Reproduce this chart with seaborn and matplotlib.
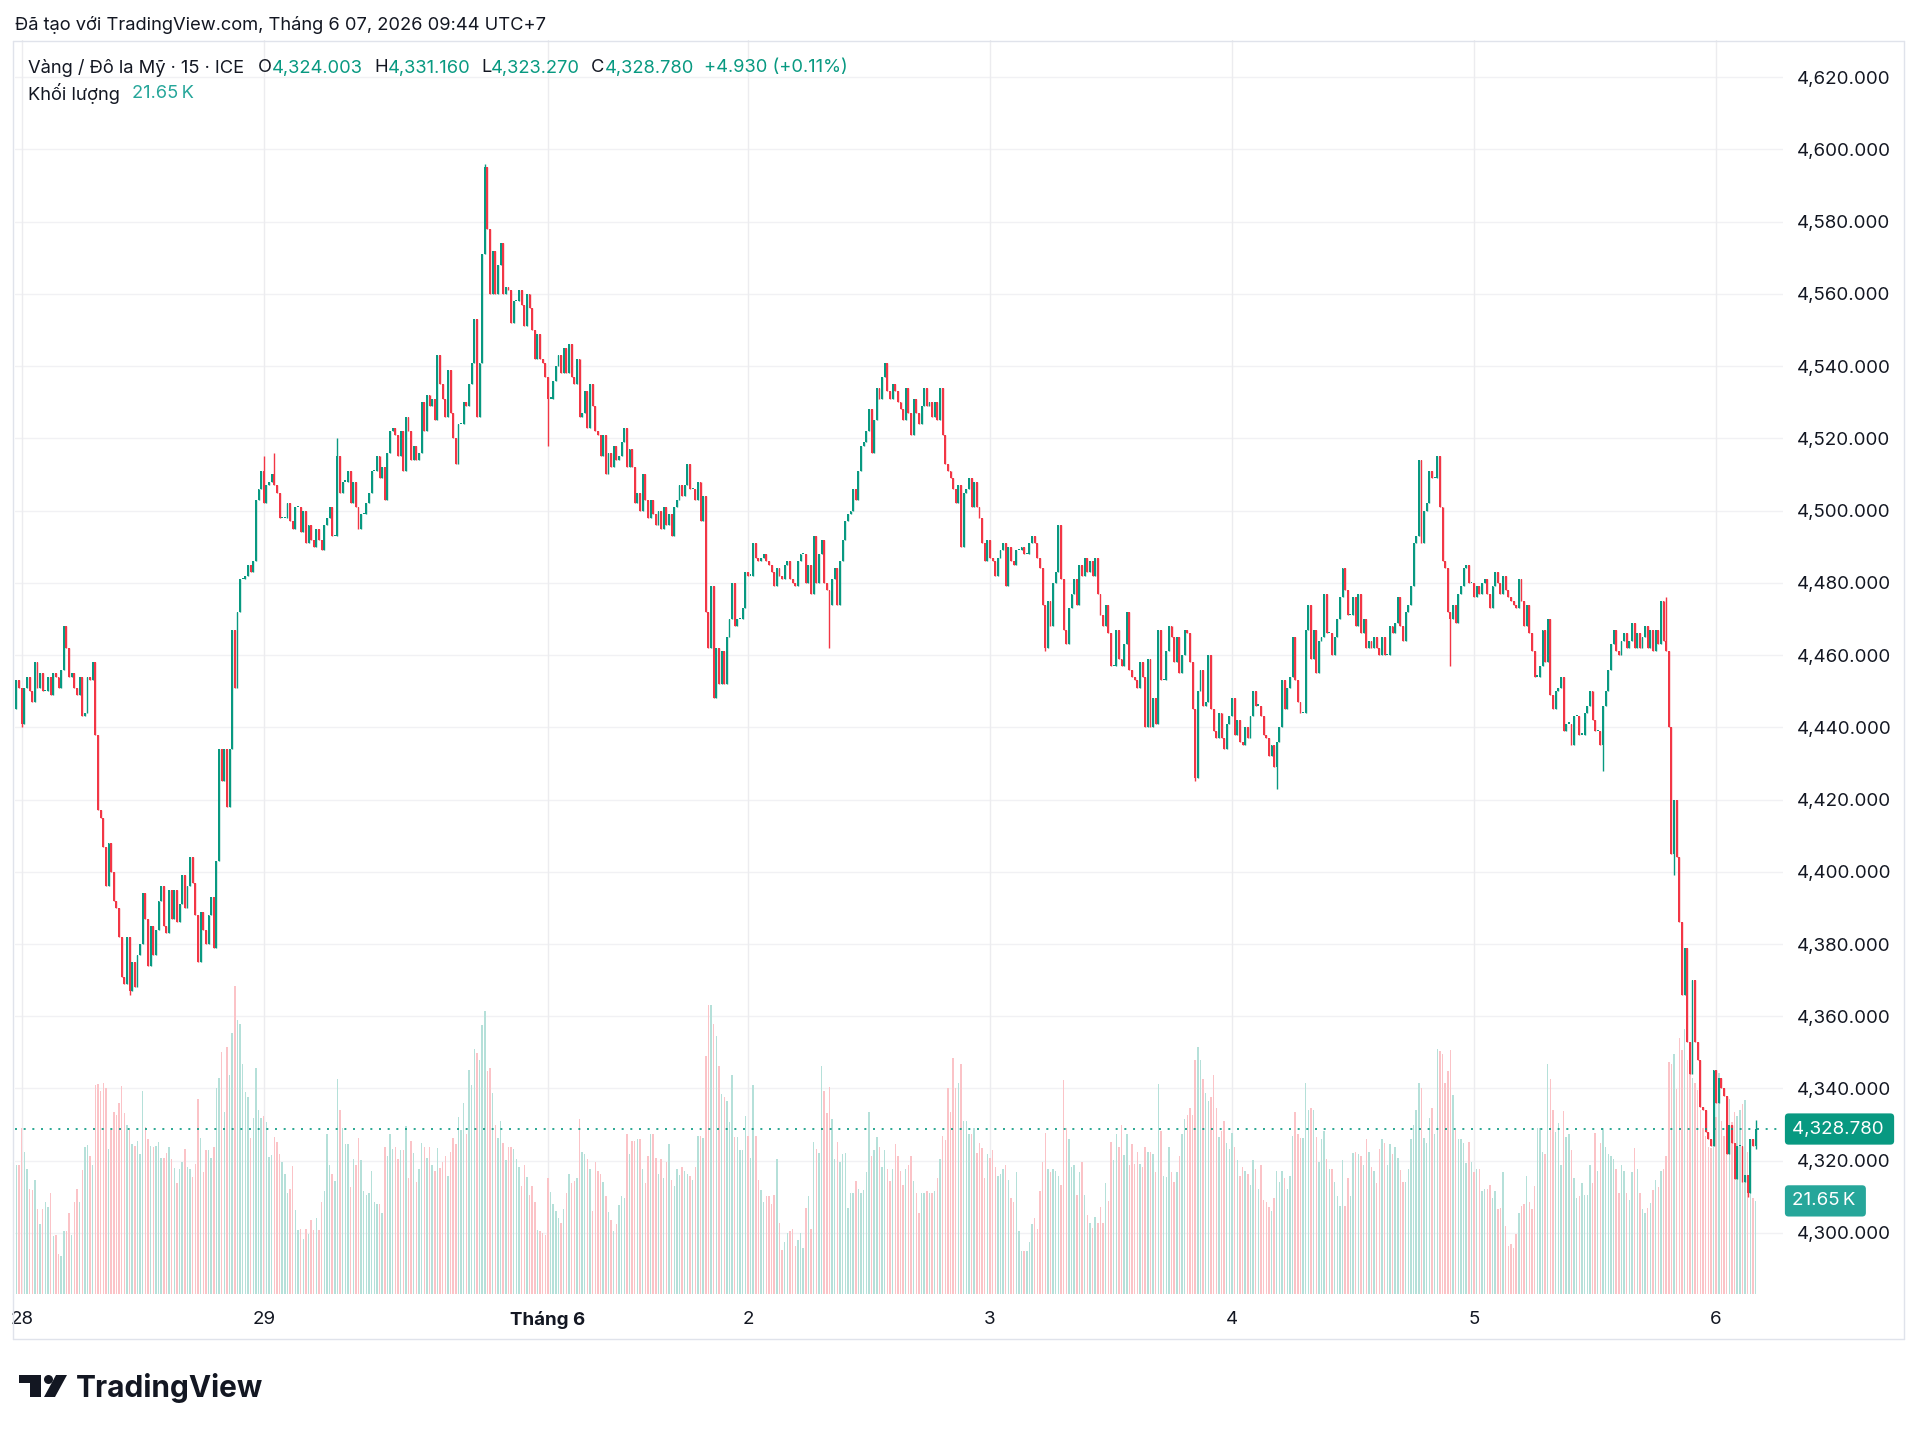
import numpy as np
import pandas as pd
import seaborn as sns
import matplotlib.pyplot as plt
from matplotlib.patches import Rectangle, Ellipse, Polygon
from matplotlib.lines import Line2D
from matplotlib.transforms import blended_transform_factory

W, H = 1920, 1433

# 15-minute closes, one list per session (the first two bars are May 27 late)
close_28 = [4453, 4451, 4441, 4451, 4454, 4450, 4447, 4458, 4451, 4455,
            4450, 4450, 4454, 4449, 4455, 4454, 4451, 4456, 4468, 4462,
            4454, 4455, 4451, 4449, 4454, 4443, 4444, 4454, 4453, 4458,
            4438, 4417, 4415, 4407, 4396, 4408, 4400, 4392, 4390, 4382,
            4371, 4369, 4382, 4367, 4375, 4368, 4377, 4380, 4394, 4387,
            4374, 4385, 4377, 4384, 4392, 4396, 4385, 4383, 4395, 4387,
            4395, 4386, 4391, 4399, 4390, 4396, 4404, 4397, 4388, 4375,
            4389, 4384, 4380, 4388, 4393, 4379, 4403, 4434, 4425, 4434,
            4418, 4434, 4467, 4451, 4472, 4481, 4481, 4482, 4485, 4483,
            4486, 4503, 4506, 4511]
close_29 = [4502, 4507, 4508, 4510, 4507, 4505,
            4498, 4498, 4498, 4502, 4497, 4495, 4501, 4501, 4494, 4500,
            4491, 4496, 4492, 4490, 4495, 4492, 4489, 4496, 4498, 4501,
            4493, 4493, 4515, 4505, 4508, 4508, 4511, 4502, 4508, 4501,
            4495, 4499, 4499, 4502, 4505, 4511, 4511, 4515, 4509, 4512,
            4503, 4516, 4522, 4523, 4521, 4515, 4522, 4511, 4526, 4522,
            4514, 4518, 4514, 4516, 4530, 4522, 4532, 4529, 4531, 4525,
            4543, 4535, 4531, 4526, 4539, 4527, 4520, 4513, 4524, 4524,
            4530, 4529, 4535, 4541, 4553, 4526, 4541, 4571, 4595, 4578,
            4560, 4572, 4560, 4568, 4574, 4560, 4562, 4561, 4552, 4558,
            4558, 4561, 4557, 4551, 4560, 4556, 4550, 4542, 4549, 4542,
            4541, 4537]
close_jun1 = [4531, 4531, 4536, 4540, 4543, 4538, 4545, 4538,
              4546, 4537, 4535, 4542, 4526, 4527, 4533, 4523, 4535, 4529,
              4522, 4521, 4515, 4521, 4510, 4516, 4512, 4518, 4514, 4515,
              4519, 4523, 4512, 4517, 4512, 4502, 4505, 4500, 4510, 4503,
              4498, 4503, 4499, 4496, 4500, 4495, 4501, 4496, 4499, 4493,
              4501, 4503, 4507, 4504, 4507, 4513, 4506, 4506, 4503, 4508,
              4497, 4504, 4472, 4462, 4479, 4448, 4462, 4452, 4461, 4452,
              4465, 4470, 4480, 4468, 4470, 4470, 4473, 4483]
close_jun2 = [4482, 4482, 4491, 4487, 4486, 4487, 4488, 4486, 4485, 4483, 4479, 4484,
              4482, 4481, 4485, 4486, 4481, 4480, 4479, 4486, 4488, 4488,
              4480, 4485, 4477, 4493, 4480, 4488, 4492, 4480, 4478, 4474,
              4481, 4484, 4474, 4486, 4492, 4497, 4499, 4500, 4506, 4503,
              4511, 4518, 4519, 4522, 4528, 4516, 4525, 4534, 4531, 4537,
              4541, 4533, 4531, 4535, 4533, 4530, 4528, 4525, 4534, 4527,
              4521, 4531, 4527, 4524, 4529, 4534, 4529, 4530, 4526, 4530,
              4525, 4534, 4521, 4513, 4511, 4509, 4506, 4502, 4507, 4490,
              4505, 4506, 4509, 4501, 4508, 4501, 4498, 4491, 4486, 4492]
close_jun3 = [4487, 4486, 4482, 4487, 4489, 4491, 4479, 4490, 4486, 4485,
              4489, 4489, 4490, 4488, 4488, 4491, 4493, 4491, 4487, 4484,
              4474, 4462, 4475, 4468, 4480, 4483, 4496, 4481, 4467, 4463,
              4473, 4477, 4481, 4474, 4485, 4482, 4487, 4483, 4486, 4482,
              4487, 4477, 4471, 4468, 4474, 4466, 4457, 4457, 4467, 4459,
              4457, 4463, 4472, 4456, 4454, 4453, 4451, 4458, 4454, 4440,
              4459, 4440, 4448, 4441, 4467, 4453, 4453, 4461, 4468, 4465,
              4458, 4465, 4455, 4460, 4467, 4466, 4458, 4445, 4426, 4450,
              4456, 4446, 4447, 4460, 4445, 4439, 4437, 4444, 4437, 4434,
              4441, 4443]
close_jun4 = [4448, 4438, 4442, 4436, 4435, 4440, 4437, 4443,
              4450, 4446, 4446, 4443, 4438, 4437, 4432, 4435, 4429, 4436,
              4440, 4453, 4445, 4451, 4454, 4465, 4453, 4447, 4444, 4444,
              4467, 4474, 4459, 4467, 4455, 4464, 4465, 4477, 4466, 4466,
              4460, 4465, 4470, 4476, 4484, 4478, 4471, 4471, 4476, 4468,
              4477, 4466, 4470, 4462, 4464, 4462, 4465, 4462, 4460, 4465,
              4460, 4460, 4468, 4466, 4469, 4476, 4468, 4464, 4472, 4474,
              4479, 4491, 4493, 4514, 4491, 4500, 4502, 4511, 4509, 4509,
              4515, 4501, 4486, 4484, 4472, 4470, 4474, 4469, 4477, 4479,
              4484, 4485, 4480, 4480]
close_jun5 = [4476, 4479, 4477, 4480, 4481, 4477,
              4473, 4479, 4483, 4480, 4477, 4482, 4478, 4476, 4475, 4474,
              4473, 4481, 4475, 4468, 4474, 4466, 4461, 4454, 4454, 4457,
              4467, 4458, 4470, 4449, 4445, 4450, 4451, 4454, 4439, 4441,
              4441, 4435, 4443, 4443, 4438, 4438, 4444, 4446, 4450, 4442,
              4439, 4439, 4435, 4446, 4450, 4456, 4463, 4467, 4461, 4460,
              4464, 4466, 4462, 4464, 4469, 4462, 4466, 4462, 4465, 4468,
              4462, 4467, 4461, 4467, 4463, 4475, 4464, 4461, 4440, 4405,
              4420, 4404, 4386, 4366, 4379, 4353, 4344, 4370, 4353, 4348,
              4335, 4334, 4328, 4326, 4324, 4345]
close_jun6 = [4336, 4343, 4340, 4338, 4322, 4330, 4325, 4315, 4324, 4324,
              4314, 4316, 4311, 4326, 4324.003, 4328.78]
first_open = 4445

# volume in thousands, same sessions
vol_28 = [30.0, 30.0, 38.5, 33.0, 29.1, 24.5, 24.3, 26.5, 19.7, 16.3,
          19.7, 21.4, 20.2, 23.5, 13.4, 13.7, 9.4, 8.9, 14.7, 14.7,
          18.8, 13.7, 21.4, 24.5, 21.4, 28.8, 34.2, 34.6, 32.0, 30.0,
          48.5, 48.8, 47.1, 49.1, 47.9, 33.7, 38.2, 42.3, 41.6, 44.3,
          48.3, 42.0, 39.4, 38.2, 34.8, 34.4, 35.6, 32.5, 47.1, 38.9,
          36.0, 34.4, 34.2, 34.4, 35.4, 31.7, 31.7, 32.9, 34.2, 31.3,
          29.3, 25.9, 29.1, 30.8, 33.7, 29.6, 29.1, 27.2, 30.3, 45.4,
          36.3, 28.4, 33.4, 33.4, 31.7, 34.2, 47.8, 50.2, 56.3, 42.3,
          57.4, 50.9, 60.8, 71.7, 63.7, 62.7, 53.4, 46.9, 45.7, 36.3,
          40.9, 52.6, 42.8, 40.9]
vol_29 = [41.4, 40.1, 31.8, 32.4, 36.5, 35.4,
          32.5, 30.8, 27.9, 23.6, 24.5, 29.8, 19.5, 14.9,
          15.1, 12.8, 15.1, 14.0, 17.1, 14.9, 17.6, 14.9, 21.4, 24.0,
          37.2, 30.0, 27.9, 26.2, 50.0, 42.8, 38.5, 34.8, 34.8, 24.8,
          31.3, 30.0, 36.3, 31.2, 24.0, 23.1, 23.5, 28.6, 21.4, 20.9,
          20.9, 18.8, 34.1, 32.0, 37.2, 33.7, 34.2, 31.3, 33.4, 33.4,
          39.0, 26.9, 35.6, 32.7, 26.0, 29.1, 35.1, 34.2, 31.7, 34.2,
          30.0, 28.6, 33.9, 29.3, 30.8, 32.0, 27.4, 33.0, 36.3, 34.8,
          41.1, 38.2, 44.5, 37.2, 52.2, 48.5, 57.0, 56.0, 54.3, 62.5,
          65.9, 51.9, 52.6, 46.7, 39.4, 36.3, 40.2, 35.1, 31.2, 34.2,
          34.2, 33.7, 31.3, 29.5, 25.2, 30.0, 27.2, 23.1, 25.2, 21.4,
          14.9, 14.6, 14.2, 13.7]
vol_jun1 = [26.9, 23.8, 20.9, 19.2, 17.6, 16.6, 19.7, 23.5,
            27.9, 25.7, 26.2, 26.9, 40.6, 33.0, 32.5, 31.3, 29.1, 19.2,
            30.7, 28.6, 27.9, 26.0, 22.8, 19.0, 17.1, 14.6, 16.3, 20.7,
            22.8, 22.3, 37.2, 32.5, 35.6, 35.6, 36.0, 36.0, 29.1, 25.7,
            32.0, 37.2, 37.2, 31.7, 27.9, 31.3, 26.9, 30.8, 34.8, 26.5,
            25.2, 29.1, 27.7, 29.5, 28.6, 27.9, 27.4, 26.5, 29.5, 36.8,
            36.8, 36.3, 55.3, 67.1, 67.1, 62.8, 59.9, 53.1, 46.6, 45.9,
            44.9, 39.9, 51.0, 36.5, 36.5, 33.4, 33.4, 41.4]
vol_jun2 = [36.8, 31.7, 48.5, 36.8, 26.5, 24.3, 21.4, 22.8, 22.8, 20.9, 23.1, 31.3,
            16.6, 10.3, 12.0, 14.2, 14.6, 15.2, 11.1, 12.5, 14.2, 10.8,
            20.0, 22.8, 15.2, 35.4, 33.7, 32.9, 53.1, 47.1, 42.0, 48.1,
            40.6, 31.3, 35.4, 30.8, 32.5, 32.9, 20.0, 23.6, 23.6, 26.2,
            24.5, 23.5, 24.3, 28.3, 42.3, 32.0, 33.4, 36.5, 34.1, 29.5,
            33.4, 29.1, 26.2, 29.1, 34.8, 32.0, 28.6, 25.3, 29.1, 30.0,
            32.0, 26.2, 23.5, 18.8, 23.5, 23.5, 24.0, 23.5, 23.5, 24.0,
            26.9, 31.3, 36.8, 35.8, 47.9, 42.3, 54.8, 47.9, 49.1, 53.4,
            40.2, 40.2, 37.2, 37.2, 38.5, 32.9, 35.1, 33.9, 26.9, 32.5]
vol_jun3 = [31.7, 33.4, 29.6, 27.4, 27.9, 29.1, 30.0, 26.5, 22.3, 21.4,
            28.3, 14.6, 9.9, 9.9, 9.9, 12.0, 16.3, 17.6, 15.2, 24.0,
            30.8, 37.5, 29.1, 28.3, 29.1, 28.6, 27.4, 25.3, 49.7, 38.5,
            36.0, 29.6, 30.0, 23.1, 28.3, 30.7, 23.1, 18.3, 16.6, 15.4,
            17.8, 16.6, 20.2, 16.6, 25.7, 21.7, 35.4, 31.2, 37.2, 34.1,
            39.4, 32.4, 37.2, 30.0, 34.8, 30.3, 33.0, 30.3, 29.5, 34.2,
            33.0, 33.0, 32.5, 28.3, 48.8, 38.0, 27.4, 27.1, 34.2, 28.3,
            26.0, 28.3, 32.0, 37.2, 40.6, 41.6, 43.3, 41.6, 54.3, 57.4,
            54.3, 50.0, 46.7, 44.9, 45.7, 50.9, 43.3, 36.5, 38.0, 40.2,
            35.1, 33.7]
vol_jun4 = [37.5, 34.2, 31.2, 27.4, 29.5, 28.6, 27.9, 25.3,
            31.2, 29.1, 24.5, 30.0, 21.9, 21.4, 20.2, 19.2, 22.3, 28.6,
            26.0, 28.6, 26.9, 24.5, 27.4, 36.8, 42.3, 37.2, 36.3, 36.3,
            49.1, 42.8, 43.3, 42.8, 36.5, 30.7, 36.0, 38.0, 31.3, 29.1,
            29.1, 26.0, 22.8, 20.5, 31.2, 20.5, 26.9, 22.8, 32.9, 33.0,
            32.5, 32.0, 30.0, 36.0, 33.0, 29.5, 28.6, 25.7, 33.7, 36.0,
            35.1, 30.0, 34.8, 32.5, 34.2, 31.7, 28.8, 26.0, 26.0, 29.1,
            36.0, 39.2, 42.8, 49.1, 47.9, 36.3, 35.1, 40.9, 43.3, 37.3,
            57.0, 56.5, 55.7, 49.1, 51.9, 56.8, 46.2, 38.2, 36.0, 36.0,
            35.1, 30.5, 35.4, 30.8]
vol_jun5 = [28.3, 29.1, 29.1, 24.0, 24.5, 24.5,
            25.3, 22.3, 24.0, 19.7, 20.0, 28.3, 15.9, 11.1, 11.6, 10.8,
            14.0, 18.8, 20.5, 20.9, 27.4, 21.4, 19.7, 25.2, 38.5, 38.5,
            33.0, 32.5, 53.4, 50.0, 42.8, 37.7, 39.7, 30.0, 42.5, 36.5,
            37.3, 33.4, 26.9, 22.3, 22.8, 25.7, 23.1, 23.1, 30.0, 25.7,
            37.5, 28.6, 35.1, 38.5, 34.2, 32.5, 32.2, 31.3, 29.1, 23.5,
            30.0, 28.6, 23.5, 21.9, 28.3, 33.9, 29.1, 23.5, 19.7, 18.8,
            20.0, 21.1, 24.3, 26.5, 24.8, 28.6, 29.1, 32.0, 53.9, 53.4,
            55.7, 47.6, 59.6, 56.8, 61.6, 54.3, 51.9, 50.2, 49.1, 47.4,
            42.8, 38.5, 36.8, 34.2, 33.9, 43.7]
vol_jun6 = [41.1, 51.4, 40.2, 36.8, 38.5, 45.4, 39.9, 42.3, 41.4, 42.8,
            44.2, 45.0, 33.0, 24.3, 22.3, 21.65]

# wicks that stick out beyond the bodies
spike_hi_bar = [94, 98, 122, 178, 627, 661]
spike_hi = [4515, 4516, 4520, 4596, 4476, 4331.16]
spike_lo_bar = [2, 43, 202, 309, 391, 448, 479, 545, 603, 630, 658, 661]
spike_lo = [4440, 4366, 4518, 4462, 4461, 4425, 4423, 4457, 4428, 4399, 4310, 4323.27]

day_labels = ["28", "29", "Tháng 6", "2", "3", "4", "5", "6"]
day_bars = [2, 94, 202, 278, 370, 462, 554, 646]
price_ticks = list(range(4300, 4621, 20))

UP, DOWN = "#089981", "#f23645"
TXT = "#131722"

closes = np.array(close_28 + close_29 + close_jun1 + close_jun2 + close_jun3
                  + close_jun4 + close_jun5 + close_jun6, dtype=float)
vols = np.array(vol_28 + vol_29 + vol_jun1 + vol_jun2 + vol_jun3
                + vol_jun4 + vol_jun5 + vol_jun6, dtype=float)
opens = np.r_[first_open, closes[:-1]]
highs = np.maximum(opens, closes)
lows = np.minimum(opens, closes)
for b, v in zip(spike_hi_bar, spike_hi):
    highs[b] = max(highs[b], v)
for b, v in zip(spike_lo_bar, spike_lo):
    lows[b] = min(lows[b], v)
bars = np.arange(len(closes))
is_up = closes >= opens
cols = np.where(is_up, UP, DOWN)

vol_df = pd.DataFrame({"bar": bars, "vol": vols,
                       "dir": np.where(is_up, "up", "down")})

sns.set_style("white")
plt.rcParams["font.family"] = ["Inter", "DejaVu Sans"]

fig = plt.figure(figsize=(W / 100, H / 100), dpi=100)
fig.patch.set_facecolor("white")

def fx(x):
    return x / W

def fy(y):
    return 1 - y / H

left, right, top, bottom = 15, 1783, 40, 1294
axv = fig.add_axes([fx(left), fy(bottom), (right - left) / W, (bottom - top) / H])
ax = axv.twinx()

sns.barplot(data=vol_df, x="bar", y="vol", hue="dir",
            palette={"up": "#b5e0d9", "down": "#fbc3c7"},
            native_scale=True, dodge=False, errorbar=None, width=0.55,
            saturation=1, legend=False, edgecolor="none", linewidth=0, ax=axv)

xlim = (-0.55, 671.4)
axv.set(xlabel=None, ylabel=None)
axv.set_yticks([])
axv.set_xticks(day_bars)
axv.set_xticklabels(day_labels)
axv.tick_params(axis="x", length=0, pad=12, labelsize=13.5, labelcolor=TXT)
for lab in axv.get_xticklabels():
    if lab.get_text() == "Tháng 6":
        lab.set_fontweight("bold")
axv.set_axisbelow(True)
axv.grid(axis="x", color="#ececef", lw=1)

grid_tr = blended_transform_factory(axv.transAxes, ax.transData)
for p in price_ticks:
    axv.plot([0, 1], [p, p], transform=grid_tr, color="#f1f1f4", lw=1, zorder=0.5)
axv.set_xlim(*xlim)
axv.set_ylim(0, 291.6)

# candles
ax.vlines(bars, lows, highs, colors=cols, lw=1.0, zorder=3)
ax.bar(bars, np.maximum(np.abs(closes - opens), 0.35), bottom=np.minimum(opens, closes),
       width=0.72, color=cols, linewidth=0, zorder=4)
ax.set_xlim(*xlim)
ax.set_ylim(4283.1, 4630.3)
ax.set_yticks(price_ticks)
ax.set_yticklabels([f"{p:,.3f}" for p in price_ticks])
ax.tick_params(axis="y", length=0, pad=10, labelsize=13.5, labelcolor=TXT)
for a in (ax, axv):
    for s in a.spines.values():
        s.set_visible(False)

last_close = closes[-1]
ax.axhline(last_close, color=UP, ls=(0, (1.2, 4)), lw=1.2, zorder=5)

badge_tr = blended_transform_factory(ax.transAxes, ax.transData)
ax.text(1.0051, last_close, f"{last_close:,.3f}\u2009", transform=badge_tr, color="white",
        fontsize=13.5, va="center", ha="left", zorder=10,
        bbox=dict(boxstyle="round,pad=0.38,rounding_size=0.2", fc=UP, ec="none"))
vbadge_tr = blended_transform_factory(axv.transAxes, axv.transData)
axv.text(1.0051, vols[-1], "21.65\u2009K\u2009", transform=vbadge_tr, color="white",
         fontsize=13.5, va="center", ha="left", zorder=10,
         bbox=dict(boxstyle="round,pad=0.38,rounding_size=0.2", fc="#26a69a", ec="none"))

# frame
for xs, ys in [((13, 1904), (41, 41)), ((13, 1904), (1339, 1339)),
               ((13, 13), (41, 1339)), ((1904, 1904), (41, 1339))]:
    fig.add_artist(Line2D([fx(xs[0]), fx(xs[1])], [fy(ys[0]), fy(ys[1])],
                          color="#e0e3eb", lw=1, transform=fig.transFigure))

# header and legend
fig.text(fx(15), fy(25), "Đã tạo với TradingView.com, Tháng 6 07, 2026 09:44 UTC+7",
         fontsize=13.2, color=TXT, va="center", ha="left")
legend_parts = [(28, "Vàng / Đô la Mỹ · 15 · ICE", TXT),
                (258, "O", TXT), (272, "4,324.003", UP),
                (374, "H", TXT), (388, "4,331.160", UP),
                (481, "L", TXT), (491, "4,323.270", UP),
                (591, "C", TXT), (605, "4,328.780", UP),
                (704, "+4.930 (+0.11%)", UP)]
for x, s, c in legend_parts:
    fig.text(fx(x), fy(68), s, fontsize=13.2, color=c, va="center", ha="left")
fig.text(fx(28), fy(94), "Khối lượng", fontsize=13.2, color=TXT, va="center", ha="left")
fig.text(fx(132), fy(94), "21.65\u2009K", fontsize=13.2, color="#26a69a", va="center", ha="left")

# logo
logo = [Rectangle((fx(19), fy(1383)), 22 / W, 8 / H),
        Rectangle((fx(30), fy(1397)), 11 / W, 22 / H),
        Ellipse((fx(48.5), fy(1379.5)), 9 / W, 9 / H),
        Polygon([(fx(56), fy(1375)), (fx(67), fy(1375)), (fx(55), fy(1397)), (fx(44), fy(1397))])]
for p in logo:
    p.set_transform(fig.transFigure)
    p.set_facecolor(TXT)
    p.set_edgecolor("none")
    fig.add_artist(p)
fig.text(fx(76), fy(1397), "TradingView", fontsize=21.5, fontweight="bold",
         color=TXT, va="baseline", ha="left")

fig.savefig("out.png", dpi=100, facecolor="white")
